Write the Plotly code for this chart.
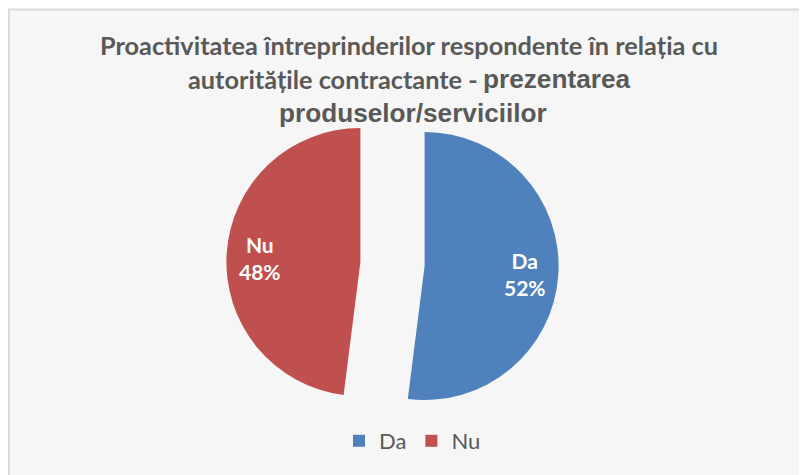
import math
import plotly.graph_objects as go

labels = ["Da", "Nu"]
values = [52, 48]
colors = ["#4F81BD", "#C0504D"]
title_line1 = "Proactivitatea întreprinderilor respondente în relația cu"
title_line2a = "autoritățile contractante -"
title_line2b = "prezentarea"
title_line3 = "produselor/serviciilor"

W, H = 807, 475
OFF = 8  # page body margin: figure origin sits 8px right/down in the window


def px(x):
    return (x - OFF) / W


def py(y):
    return 1 - (y - OFF) / H


PULL = 0.24
R = 134
CX, CY = 392.5, 264  # window coords of the (un-pulled) pie centre
half = R * (1 + PULL)

fig = go.Figure()
fig.add_trace(go.Pie(
    labels=labels,
    values=values,
    sort=False,
    direction="clockwise",
    rotation=0,
    pull=[PULL, PULL],
    marker=dict(colors=colors, line=dict(width=0)),
    textinfo="none",
    hoverinfo="label+percent",
    domain=dict(x=[px(CX - half), px(CX + half)], y=[py(CY + half), py(CY - half)]),
    showlegend=True,
))

# slice labels placed along each slice's bisector
total = sum(values)
start = 0.0
annotations = []
for lab, v in zip(labels, values):
    frac = v / total
    mid = (start + frac / 2) * 2 * math.pi
    dx, dy = math.sin(mid), -math.cos(mid)
    rr = R * PULL + R * 0.75
    lx, ly = CX + dx * rr, CY + dy * rr + 2
    annotations.append(dict(
        x=px(lx), y=py(ly), xref="paper", yref="paper",
        text=f"<b>{lab}<br>{round(frac * 100)}%</b>",
        showarrow=False, font=dict(family="Lato", size=21, color="white"),
        align="center", xanchor="center", yanchor="middle",
    ))
    start += frac

GREY = "#595959"
calibri = dict(family="Lato", size=25.3, color=GREY)
arial = dict(family="Liberation Sans", size=26.2, color=GREY)


def title_part(text, x, y, font, xanchor):
    return dict(
        x=px(x), y=py(y), xref="paper", yref="paper",
        text=f"<b>{text}</b>", showarrow=False, font=font,
        xanchor=xanchor, yanchor="middle", borderpad=0,
    )


annotations += [
    title_part(title_line1, 408.5, 45, calibri, "center"),
    title_part(title_line2a, 479, 79, calibri, "right"),
    title_part(title_line2b, 482, 79, arial, "left"),
    title_part(title_line3, 413, 113, arial, "center"),
]

fig.update_layout(
    width=W,
    height=H,
    margin=dict(l=0, r=0, t=0, b=0, autoexpand=False),
    paper_bgcolor="white",
    plot_bgcolor="white",
    legend=dict(
        orientation="h",
        x=0.5 + 1 / W,
        xanchor="center",
        y=py(441),
        yanchor="middle",
        bgcolor="rgba(0,0,0,0)",
        font=dict(family="Lato", size=22, color=GREY),
        itemwidth=30,
        traceorder="normal",
    ),
    annotations=annotations,
    shapes=[
        dict(
            type="rect",
            xref="paper",
            yref="paper",
            x0=0.8 / W,
            x1=1.05,
            y0=-0.05,
            y1=1 - 1.5 / H,
            fillcolor="#F6F6F6",
            line=dict(color="#D9D9D9", width=2),
            layer="below",
        )
    ],
)

fig.write_html("out.html")
